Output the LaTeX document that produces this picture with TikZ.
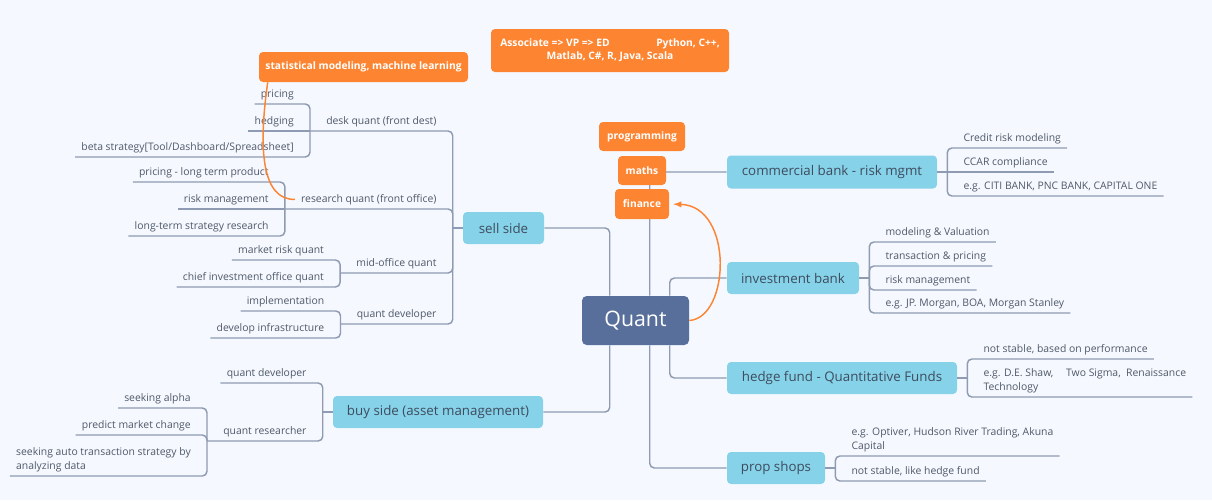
\documentclass[tikz,border=0pt]{standalone}
\usepackage{fontspec}
\setmainfont{Open Sans}
\usetikzlibrary{calc,arrows}

\definecolor{bgcol}{RGB}{245,249,255}
\definecolor{linecol}{RGB}{143,155,178}
\definecolor{topiccol}{RGB}{134,211,233}
\definecolor{quantcol}{RGB}{88,111,155}
\definecolor{orangecol}{RGB}{253,133,50}
\definecolor{textcol}{RGB}{62,75,94}
\definecolor{leafcol}{RGB}{80,88,104}

\begin{document}
\begin{tikzpicture}[>=latex, x=0.75pt, y=-0.75pt,
	branch/.style={draw=linecol, line width=1.1pt, rounded corners=3.5pt},
	topic/.style={fill=topiccol, text=textcol, rounded corners=3pt, inner sep=0pt,
		minimum height=24pt, font=\fontsize{10}{12}\selectfont},
	leaf/.style={text=leafcol, inner xsep=4.5pt, inner ysep=1.5pt, text height=8pt,
		text depth=3pt, font=\fontsize{7.8}{10.5}\selectfont},
	note/.style={fill=orangecol, text=white, rounded corners=3pt, inner sep=0pt,
		font=\bfseries\fontsize{7.7}{9.75}\selectfont},
	link/.style={draw=orangecol, line width=1.1pt}]

	% canvas
	\fill[bgcol] (0,0) rectangle (1212,500);
	\useasboundingbox (0,0) rectangle (1212,500);

	% central topic
	\node[fill=quantcol, text=white, rounded corners=3.5pt, minimum width=80.25pt,
		minimum height=36.75pt, font=\fontsize{16}{19}\selectfont] (quant) at (635.5,320.5) {Quant};

	% main topics
	\node[topic, minimum width=60.75pt] (sellside) at (503.5,228) {sell side};
	\node[topic, minimum width=157.5pt] (buyside) at (438,412) {buy side (asset management)};
	\node[topic, minimum width=157.5pt, minimum height=24.75pt] (commercial) at (832,172) {commercial bank - risk mgmt};
	\node[topic, minimum width=99pt] (investment) at (793,278) {investment bank};
	\node[topic, minimum width=172.5pt] (hedge) at (842,378) {hedge fund - Quantitative Funds};
	\node[topic, minimum width=73.5pt] (prop) at (776,468) {prop shops};

	% sell side
	\coordinate (jsell) at ($(sellside.west)+(-10,0)$);
	\node[leaf, anchor=south east] (desk) at ($(jsell)+(-10,-97)$) {desk quant (front dest)};
	\node[leaf, anchor=south east] (research) at ($(jsell)+(-10,-19)$) {research quant (front office)};
	\node[leaf, anchor=south east] (midoffice) at ($(jsell)+(-10,45)$) {mid-office quant};
	\node[leaf, anchor=south east] (qdev) at ($(jsell)+(-10,96)$) {quant developer};

	\coordinate (jdesk) at ($(desk.south west)+(-10,0)$);
	\node[leaf, anchor=south east] (pricing) at ($(jdesk)+(-10,-27)$) {pricing};
	\node[leaf, anchor=south east] (hedging) at ($(jdesk)+(-10,0)$) {hedging};
	\node[leaf, anchor=south east] (beta) at ($(jdesk)+(-10,26)$) {beta strategy[Tool/Dashboard/Spreadsheet]};

	\coordinate (jres) at ($(research.south west)+(-10,0)$);
	\node[leaf, anchor=south east] (longprod) at ($(jres)+(-10,-27)$) {pricing - long term product};
	\node[leaf, anchor=south east] (riskmgmt) at ($(jres)+(-10,0)$) {risk management};
	\node[leaf, anchor=south east] (longterm) at ($(jres)+(-10,27)$) {long-term strategy research};

	\coordinate (jmid) at ($(midoffice.south west)+(-10,0)$);
	\node[leaf, anchor=south east] (marketrisk) at ($(jmid)+(-10,-13)$) {market risk quant};
	\node[leaf, anchor=south east] (chiefinv) at ($(jmid)+(-10,14)$) {chief investment office quant};

	\coordinate (jqdev) at ($(qdev.south west)+(-10,0)$);
	\node[leaf, anchor=south east] (implement) at ($(jqdev)+(-10,-13)$) {implementation};
	\node[leaf, anchor=south east] (infra) at ($(jqdev)+(-10,14)$) {develop infrastructure};

	% buy side
	\coordinate (jbuy) at ($(buyside.west)+(-10,0)$);
	\node[leaf, anchor=south east] (bdev) at ($(jbuy)+(-10,-29)$) {quant developer};
	\node[leaf, anchor=south east] (bres) at ($(jbuy)+(-10,29)$) {quant researcher};

	\coordinate (jbres) at ($(bres.south west)+(-10,0)$);
	\node[leaf, anchor=south east] (alpha) at ($(jbres)+(-10,-33)$) {seeking alpha};
	\node[leaf, anchor=south east] (predict) at ($(jbres)+(-10,-6)$) {predict market change};
	\node[leaf, anchor=south east, align=left] (auto) at ($(jbres)+(-10,35)$) {seeking auto transaction strategy by\\analyzing data};

	% commercial bank
	\coordinate (jcom) at ($(commercial.east)+(10,0)$);
	\node[leaf, anchor=south west] (credit) at ($(jcom)+(10,-24)$) {Credit risk modeling};
	\node[leaf, anchor=south west] (ccar) at ($(jcom)+(10,0)$) {CCAR compliance};
	\node[leaf, anchor=south west] (citi) at ($(jcom)+(10,24)$) {e.g. CITI BANK, PNC BANK, CAPITAL ONE};

	% investment bank
	\coordinate (jinv) at ($(investment.east)+(10,0)$);
	\node[leaf, anchor=south west] (modval) at ($(jinv)+(10,-36)$) {modeling \& Valuation};
	\node[leaf, anchor=south west] (transpr) at ($(jinv)+(10,-12)$) {transaction \& pricing};
	\node[leaf, anchor=south west] (ibrisk) at ($(jinv)+(10,12)$) {risk management};
	\node[leaf, anchor=south west] (jpm) at ($(jinv)+(10,35)$) {e.g. JP. Morgan, BOA, Morgan Stanley};

	% hedge fund
	\coordinate (jhedge) at ($(hedge.east)+(10,0)$);
	\node[leaf, anchor=south west] (perf) at ($(jhedge)+(10,-19)$) {not stable, based on performance};
	\node[leaf, anchor=south west, align=left] (shaw) at ($(jhedge)+(10,19)$) {e.g. D.E. Shaw,\hspace{9.5pt}Two Sigma,\hspace{4pt}Renaissance\\Technology};

	% prop shops
	\coordinate (jprop) at ($(prop.east)+(10,0)$);
	\node[leaf, anchor=south west, align=left] (optiver) at ($(jprop)+(10,-12)$) {e.g. Optiver, Hudson River Trading, Akuna\\Capital};
	\node[leaf, anchor=south west] (likehf) at ($(jprop)+(10,13)$) {not stable, like hedge fund};

	% branches from Quant
	\draw[branch] ($(quant.north west)+(28,0)$) |- (sellside.east);
	\draw[branch] ($(quant.south west)+(28,0)$) |- (buyside.east);
	\draw[branch] ($(quant.north west)+(68,0)$) |- (commercial.west);
	\draw[branch] ($(quant.north west)+(88,0)$) |- (investment.west);
	\draw[branch] ($(quant.south west)+(88,0)$) |- (hedge.west);
	\draw[branch] ($(quant.south west)+(68,0)$) |- (prop.west);

	% sell side branches
	\draw[branch] (sellside.west) -- (jsell);
	\draw[branch] (jsell) |- (jdesk);
	\draw[branch] (jsell) |- (jres);
	\draw[branch] (jsell) |- (jmid);
	\draw[branch] (jsell) |- (jqdev);
	\draw[branch] (jdesk) |- (pricing.south west);
	\draw[branch] (jdesk) -- (hedging.south west);
	\draw[branch] (jdesk) |- (beta.south west);
	\draw[branch] (jres) |- (longprod.south west);
	\draw[branch] (jres) -- (riskmgmt.south west);
	\draw[branch] (jres) |- (longterm.south west);
	\draw[branch] (jmid) |- (marketrisk.south west);
	\draw[branch] (jmid) |- (chiefinv.south west);
	\draw[branch] (jqdev) |- (implement.south west);
	\draw[branch] (jqdev) |- (infra.south west);

	% buy side branches
	\draw[branch] (buyside.west) -- (jbuy);
	\draw[branch] (jbuy) |- (bdev.south west);
	\draw[branch] (jbuy) |- (jbres);
	\draw[branch] (jbres) |- (alpha.south west);
	\draw[branch] (jbres) |- (predict.south west);
	\draw[branch] (jbres) |- (auto.south west);

	% right side branches
	\draw[branch] (commercial.east) -- (jcom);
	\draw[branch] (jcom) |- (credit.south east);
	\draw[branch] (jcom) -- (ccar.south east);
	\draw[branch] (jcom) |- (citi.south east);
	\draw[branch] (investment.east) -- (jinv);
	\draw[branch] (jinv) |- (modval.south east);
	\draw[branch] (jinv) |- (transpr.south east);
	\draw[branch] (jinv) |- (ibrisk.south east);
	\draw[branch] (jinv) |- (jpm.south east);
	\draw[branch] (hedge.east) -- (jhedge);
	\draw[branch] (jhedge) |- (perf.south east);
	\draw[branch] (jhedge) |- (shaw.south east);
	\draw[branch] (prop.east) -- (jprop);
	\draw[branch] (jprop) |- (optiver.south east);
	\draw[branch] (jprop) |- (likehf.south east);

	% floating notes
	\node[note, minimum width=178.5pt, minimum height=32.25pt, align=center] (career) at (610,50.5)
		{Associate => VP => ED\hspace{35pt}Python, C++,\\Matlab, C\#, R, Java, Scala};
	\node[note, minimum width=156.75pt, minimum height=22.5pt] (stat) at (363.5,67) {statistical modeling, machine learning};
	\node[note, minimum width=64.5pt, minimum height=21.75pt] (programming) at (642,136.5) {programming};
	\node[note, minimum width=36pt, minimum height=21.75pt] (maths) at (642,170.5) {maths};
	\node[note, minimum width=40.5pt, minimum height=22.5pt] (finance) at (642,204) {finance};

	% relationships
	\draw[link,->,shorten >=3pt] (quant.east) .. controls (730,318) and (734,206) .. (finance.east);
	\draw[link] ($(stat.south west)+(9,0)$) .. controls (258,150) and (262,200) .. (research.west);
\end{tikzpicture}
\end{document}
